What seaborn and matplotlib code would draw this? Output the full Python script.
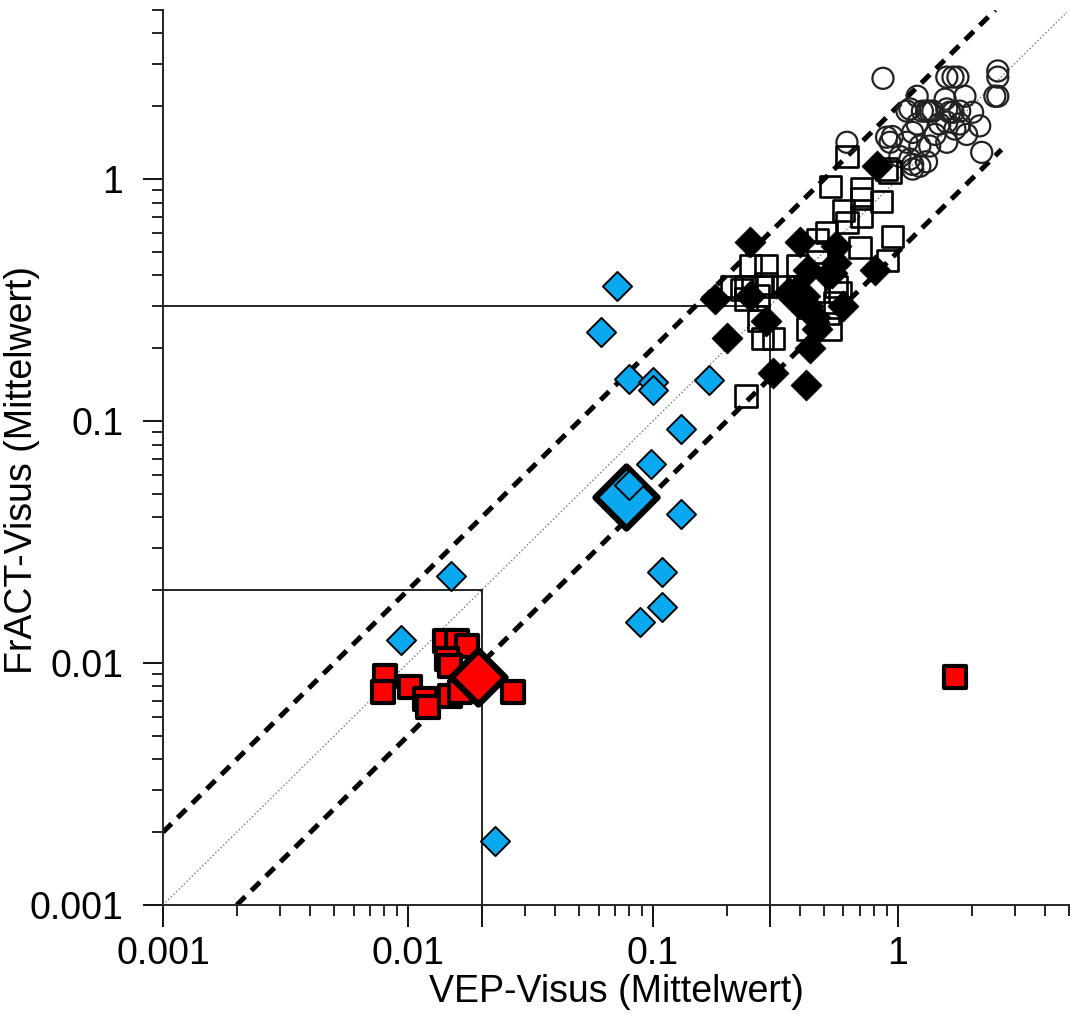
import numpy as np
import pandas as pd
import seaborn as sns
import matplotlib.pyplot as plt
from matplotlib.ticker import LogLocator, NullFormatter

# %% data
# open circles
circ_x = [0.87, 1.585, 1.68, 1.76, 2.56, 2.56, 2.49, 2.56, 1.88, 1.20,
          1.12, 1.09, 1.26, 1.31, 1.35, 1.39, 1.585, 1.63, 1.68, 1.79,
          2.02, 2.16, 1.91, 1.585, 1.48, 1.20, 1.15, 0.95, 0.90, 0.93,
          1.09, 1.23, 1.35, 1.585, 1.02, 1.12, 1.15, 1.23, 1.31, 1.15,
          2.20, 0.62, 1.79, 1.42, 1.56, 1.71]
circ_y = [2.61, 2.64, 2.64, 2.64, 2.80, 2.64, 2.20, 2.20, 2.20, 2.20,
          1.95, 1.91, 1.91, 1.91, 1.91, 1.91, 1.95, 1.89, 1.89, 1.91,
          1.89, 1.66, 1.53, 1.72, 1.69, 1.69, 1.56, 1.50, 1.49, 1.42,
          1.42, 1.37, 1.37, 1.42, 1.24, 1.21, 1.15, 1.13, 1.18, 1.10,
          1.29, 1.42, 1.69, 1.53, 2.14, 1.61]

# open squares
sq_x = [0.62, 0.90, 0.93, 0.53, 0.71, 0.71, 0.86, 0.60, 0.71, 0.62,
        0.95, 0.51, 0.47, 0.70, 0.91, 0.25, 0.29, 0.39, 0.21, 0.24,
        0.28, 0.39, 0.56, 0.23, 0.29, 0.34, 0.24, 0.27, 0.58, 0.53,
        0.43, 0.27, 0.28, 0.31, 0.24, 0.47, 0.55, 0.52]
sq_y = [1.24, 1.10, 1.07, 0.93, 0.91, 0.83, 0.81, 0.74, 0.70, 0.66,
        0.58, 0.60, 0.56, 0.52, 0.46, 0.44, 0.44, 0.44, 0.36, 0.36,
        0.36, 0.36, 0.36, 0.35, 0.37, 0.36, 0.32, 0.33, 0.34, 0.24,
        0.24, 0.26, 0.22, 0.22, 0.127, 0.50, 0.31, 0.28]

# black diamonds
dia_x = [0.82, 0.25, 0.40, 0.56, 0.81, 0.56, 0.54, 0.43, 0.18, 0.25,
         0.36, 0.40, 0.43, 0.60, 0.29, 0.20, 0.47, 0.44, 0.31, 0.42,
         0.52, 0.46]
dia_y = [1.13, 0.55, 0.55, 0.53, 0.42, 0.45, 0.41, 0.42, 0.32, 0.33,
         0.34, 0.32, 0.30, 0.30, 0.26, 0.22, 0.24, 0.20, 0.158, 0.141,
         0.40, 0.27]
dia_mean = (0.39, 0.33)

# blue diamonds
blue_x = [0.0713, 0.0614, 0.080, 0.100, 0.100, 0.169, 0.130, 0.098, 0.080,
          0.130, 0.109, 0.109, 0.089, 0.0150, 0.0094, 0.0226]
blue_y = [0.361, 0.233, 0.149, 0.145, 0.135, 0.148, 0.0927, 0.0664, 0.0545,
          0.0413, 0.0238, 0.0170, 0.0148, 0.0229, 0.01245, 0.00184]
blue_mean = (0.078, 0.0485)

# red squares
red_x = [0.00806, 0.00794, 0.0102, 0.01173, 0.0121, 0.01416, 0.01585, 0.0174,
         0.0144, 0.0148, 0.0148, 0.0163, 0.0268, 1.71]
red_y = [0.00884, 0.00759, 0.00796, 0.0071, 0.00658, 0.01233, 0.01233, 0.01175,
         0.0104, 0.00972, 0.00731, 0.00759, 0.00759, 0.00875]
red_mean = (0.0193, 0.00875)

BLUE = '#0aa8ef'
RED = '#ff0000'

# %% plot
sns.set_style('ticks')
plt.rcParams['font.family'] = ['Liberation Sans', 'DejaVu Sans']
plt.rcParams['text.color'] = 'black'
plt.rcParams['axes.labelcolor'] = 'black'

fig = plt.figure(figsize=(10.7, 10.17), dpi=100)
ax = fig.add_axes([163/1070, 112/1017, (1069-163)/1070, (905-10)/1017])
ax.set_xscale('log')
ax.set_yscale('log')

# reference lines
ax.plot([0.001, 4.9], [0.001, 4.9], color='#777777', lw=1, ls=':', zorder=1)
ax.plot([0.001, 2.5], [0.002, 5.0], color='black', lw=3.6, ls=(0, (2.4, 1.7)), zorder=1)
ax.plot([0.002, 2.65], [0.001, 1.325], color='black', lw=3.6, ls=(0, (2.4, 1.7)), zorder=1)
for v in (0.3, 0.02):
    ax.plot([0.001, v], [v, v], color='black', lw=1.2, zorder=1)
    ax.plot([v, v], [0.001, v], color='black', lw=1.2, zorder=1)

# open circles
sns.scatterplot(x=circ_x, y=circ_y, marker='o', s=230, color='black', ax=ax, zorder=2)
ax.collections[-1].set_facecolor('none')
ax.collections[-1].set_edgecolor('#222222')
ax.collections[-1].set_linewidth(1.6)

# open squares
sns.scatterplot(x=sq_x, y=sq_y, marker='s', s=235, color='black', ax=ax, zorder=3)
ax.collections[-1].set_facecolor('none')
ax.collections[-1].set_edgecolor('black')
ax.collections[-1].set_linewidth(1.9)

# black diamonds
sns.scatterplot(x=dia_x, y=dia_y, marker='D', s=250, color='black',
                edgecolor='black', linewidth=0.5, ax=ax, zorder=4)
sns.scatterplot(x=[dia_mean[0]], y=[dia_mean[1]], marker='D', s=520, color='black',
                edgecolor='black', linewidth=0.5, ax=ax, zorder=4)

# blue diamonds (group mean drawn underneath)
sns.scatterplot(x=[blue_mean[0]], y=[blue_mean[1]], marker='D', s=1000, color=BLUE,
                edgecolor='black', linewidth=4.5, ax=ax, zorder=5)
sns.scatterplot(x=blue_x, y=blue_y, marker='D', s=220, color=BLUE,
                edgecolor='black', linewidth=1.4, ax=ax, zorder=5)

# red squares
sns.scatterplot(x=red_x, y=red_y, marker='s', s=250, color=RED,
                edgecolor='black', linewidth=3, ax=ax, zorder=6)
sns.scatterplot(x=[red_mean[0]], y=[red_mean[1]], marker='D', s=760, color=RED,
                edgecolor='black', linewidth=4.5, ax=ax, zorder=6)

ax.set_xlim(0.001, 5)
ax.set_ylim(0.001, 5)

# axes and ticks
sns.despine(ax=ax)
for sp in ('left', 'bottom'):
    ax.spines[sp].set_linewidth(1.4)
ax.set_xticks([0.001, 0.01, 0.02, 0.1, 0.3, 1])
ax.set_xticklabels(['0.001', '0.01', '', '0.1', '', '1'])
ax.set_yticks([0.001, 0.01, 0.1, 1])
ax.set_yticklabels(['0.001', '0.01', '0.1', '1'])
ax.xaxis.set_minor_locator(LogLocator(base=10, subs=np.arange(2, 10), numticks=20))
ax.yaxis.set_minor_locator(LogLocator(base=10, subs=np.arange(2, 10), numticks=20))
ax.xaxis.set_minor_formatter(NullFormatter())
ax.yaxis.set_minor_formatter(NullFormatter())
ax.tick_params(which='major', direction='out', width=1.3, labelsize=27, colors='black')
ax.tick_params(axis='x', which='major', length=16, pad=6)
ax.tick_params(axis='y', which='major', length=14.5, pad=14)
ax.tick_params(which='minor', direction='out', length=8, width=1.2, colors='black')

ax.set_xlabel('VEP-Visus (Mittelwert)', fontsize=27, labelpad=2)
ax.set_ylabel('FrACT-Visus (Mittelwert)', fontsize=27)
ax.yaxis.set_label_coords(-0.136, 0.486)

fig.savefig('out.png', dpi=100)
